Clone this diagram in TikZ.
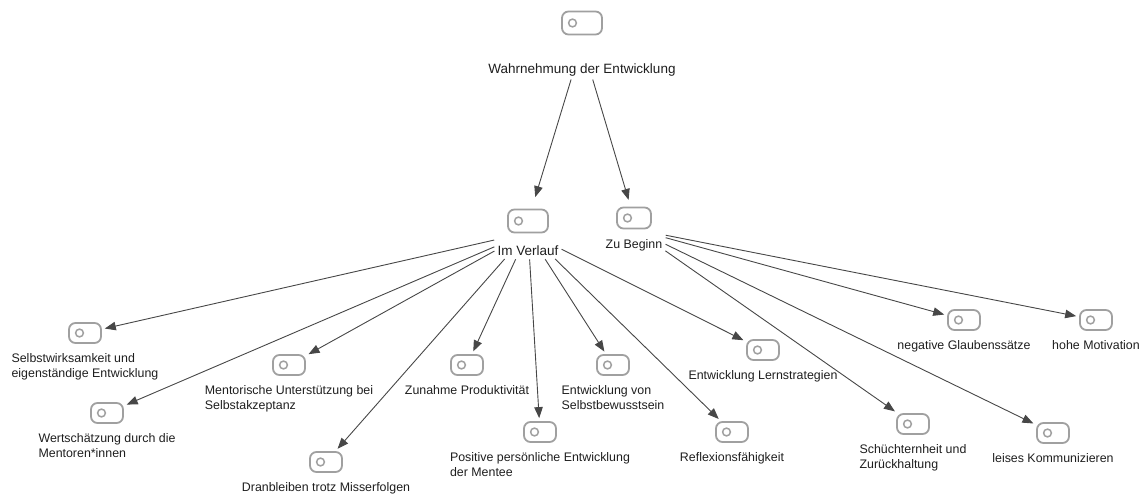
\documentclass[tikz,border=0pt]{standalone}
\usepackage{fontspec}
\setmainfont{Liberation Sans}
\usetikzlibrary{positioning}
\usetikzlibrary{fit}
\usetikzlibrary{arrows.meta}
\definecolor{icongray}{HTML}{A0A0A0}
\definecolor{edgegray}{HTML}{474747}
\definecolor{textgray}{HTML}{1E1E1E}

\begin{document}
\begin{tikzpicture}[x=1pt, y=-1pt,
    icon/.style={draw=icongray, line width=1.8pt, rounded corners=6.5pt, minimum width=32pt, minimum height=20pt, inner sep=0pt,
        path picture={\draw[icongray, line width=1.5pt] ([xshift=10.5pt]path picture bounding box.west) circle (3.9pt);}},
    bigicon/.style={icon, minimum width=40pt, minimum height=23pt},
    txt/.style={inner sep=0pt, text=textgray, align=left, font=\fontsize{12.4}{15}\selectfont},
    bigtxt/.style={txt, font=\fontsize{13.5}{16}\selectfont},
    group/.style={inner sep=1.5pt},
    edge/.style={draw=edgegray, line width=0.9pt, -{Triangle[length=11pt,width=8.5pt]}, shorten >=3pt, shorten <=1.5pt}]
    \useasboundingbox (0,0) rectangle (1141,494);

    \node[bigicon] (root) at (582,23) {};
    \node[bigtxt, below=28pt of root] (root-t) {Wahrnehmung der Entwicklung};
    \node[group, fit=(root)(root-t)] (root-all) {};

    \node[bigicon] (verlauf) at (528,221) {};
    \node[bigtxt, below=12.5pt of verlauf] (verlauf-t) {Im Verlauf};
    \node[group, fit=(verlauf)(verlauf-t)] (verlauf-all) {};

    \node[icon, minimum width=34pt, minimum height=21pt] (beginn) at (634,218) {};
    \node[txt, below=10pt of beginn] (beginn-t) {Zu Beginn};
    \node[group, fit=(beginn)(beginn-t)] (beginn-all) {};

    \node[icon] (sel) at (85,333) {};
    \node[txt, below=9.5pt of sel] (sel-t) {Selbstwirksamkeit und\\eigenständige Entwicklung};
    \node[icon] (wert) at (107,413) {};
    \node[txt, below=9.5pt of wert] (wert-t) {Wertschätzung durch die\\Mentoren*innen};
    \node[icon] (ment) at (289,365) {};
    \node[txt, below=9.5pt of ment] (ment-t) {Mentorische Unterstützung bei\\Selbstakzeptanz};
    \node[icon] (dran) at (326,462) {};
    \node[txt, below=9.5pt of dran] (dran-t) {Dranbleiben trotz Misserfolgen};
    \node[icon] (zun) at (467,365) {};
    \node[txt, below=9.5pt of zun] (zun-t) {Zunahme Produktivität};
    \node[icon] (pos) at (540,432) {};
    \node[txt, below=9.5pt of pos] (pos-t) {Positive persönliche Entwicklung\\der Mentee};
    \node[icon] (selbst) at (613,365) {};
    \node[txt, below=9.5pt of selbst] (selbst-t) {Entwicklung von\\Selbstbewusstsein};
    \node[icon] (refl) at (732,432) {};
    \node[txt, below=9.5pt of refl] (refl-t) {Reflexionsfähigkeit};
    \node[icon] (lern) at (763,350) {};
    \node[txt, below=9.5pt of lern] (lern-t) {Entwicklung Lernstrategien};

    \node[icon] (neg) at (964,320) {};
    \node[txt, below=9.5pt of neg] (neg-t) {negative Glaubenssätze};
    \node[icon] (hohe) at (1096,320) {};
    \node[txt, below=9.5pt of hohe] (hohe-t) {hohe Motivation};
    \node[icon] (schue) at (913,424) {};
    \node[txt, below=9.5pt of schue] (schue-t) {Schüchternheit und\\Zurückhaltung};
    \node[icon] (leis) at (1053,433) {};
    \node[txt, below=9.5pt of leis] (leis-t) {leises Kommunizieren};

    \draw[edge, shorten >=12pt] (root-all) -- (verlauf);
    \draw[edge, shorten >=7pt] (root-all) -- (beginn);

    \draw[edge] (verlauf-all) -- (sel);
    \draw[edge] (verlauf-all) -- (wert);
    \draw[edge] (verlauf-all) -- (ment);
    \draw[edge] (verlauf-all) -- (dran);
    \draw[edge] (verlauf-all) -- (zun);
    \draw[edge] (verlauf-all) -- (pos);
    \draw[edge] (verlauf-all) -- (selbst);
    \draw[edge] (verlauf-all) -- (refl);
    \draw[edge] (verlauf-all) -- (lern);

    \draw[edge] (beginn-all) -- (neg);
    \draw[edge] (beginn-all) -- (hohe);
    \draw[edge] (beginn-all) -- (schue);
    \draw[edge] (beginn-all) -- (leis);
\end{tikzpicture}
\end{document}
